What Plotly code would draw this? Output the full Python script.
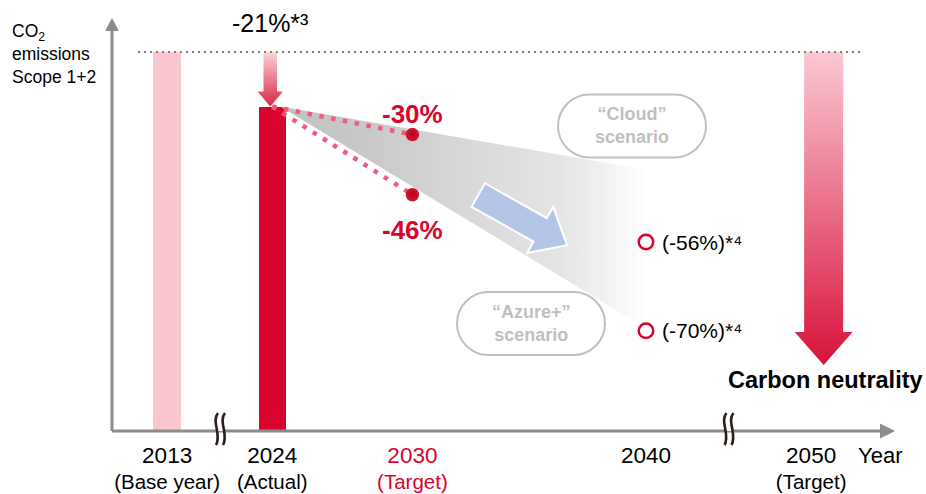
import math
import plotly.graph_objects as go

# ---------------- data ----------------
YEARS = [2013, 2024, 2030, 2040, 2050]
YEAR_NOTES = ["(Base year)", "(Actual)", "(Target)", "", "(Target)"]
BASE_LEVEL = 100            # 2013 Scope 1+2 emissions indexed to 100
ACTUAL_2024 = 79            # -21% vs. base year
SCENARIOS = ["Cloud", "Azure+"]
TARGET_2030 = [70, 54]      # -30% / -46%
OUTLOOK_2040 = [44, 30]     # -56% / -70%
CONE_TOP_2040 = 60          # upper edge of the scenario fan at 2040

RED = "#D9042B"
PINK = "#F9C5CF"
AXIS_GREY = "#8C8C8C"
BOX_GREY = "#BFBFBF"
FONT = "Liberation Sans, Arial, sans-serif"

# ---------------- geometry ----------------
FIG_W, FIG_H = 926, 494
ML, MR, MT, MB = 112, 31, 18, 63
PW, PH = FIG_W - ML - MR, FIG_H - MT - MB
XR = [2017.14, 2050.66]
PX_PER_YEAR = PW / (XR[1] - XR[0])
PX_PER_DECADE = 533.0
Y_TOP = math.log10(BASE_LEVEL) + 34 / PX_PER_DECADE
YR = [Y_TOP - PH / PX_PER_DECADE, Y_TOP]


def pos(year):
    """Broken time axis: the gaps 2013-2024 and 2040-2050 are compressed."""
    if year < 2020:
        return year + 6.5
    if year > 2045:
        return year - 2.93
    return year


def dx(px):
    return px / PX_PER_YEAR


def lift(v, px):
    """Value lying px pixels above v on the log axis."""
    return 10 ** (math.log10(v) + px / PX_PER_DECADE)


def paper_x(px):
    return (px - ML) / PW


def paper_y(py):
    return (FIG_H - MB - py) / PH


def value_to_paper(v):
    return (math.log10(v) - YR[0]) / (YR[1] - YR[0])


def pct(v):
    return f"-{BASE_LEVEL - v}%"


fig = go.Figure()

# scenario fan fading out towards 2040
xa, xe = pos(2024) + dx(8), pos(2040) + dx(4)
fig.add_trace(go.Scatter(
    x=[xa, xe, xe, xa], y=[ACTUAL_2024, CONE_TOP_2040, OUTLOOK_2040[1], ACTUAL_2024],
    mode="lines", fill="toself", line=dict(width=0, color="rgba(0,0,0,0)"),
    fillgradient=dict(type="horizontal", colorscale=[
        [0, "#C2C2C2"], [0.22, "#C8C8C8"], [0.76, "#E5E5E5"], [0.92, "#F6F6F6"], [1, "#FFFFFF"]]),
    hoverinfo="skip", showlegend=False))

# emission bars
fig.add_trace(go.Bar(
    x=[pos(2013), pos(2024)], y=[BASE_LEVEL, ACTUAL_2024],
    width=[dx(28), dx(27)], marker=dict(color=[PINK, RED], line=dict(width=0)),
    hoverinfo="skip", showlegend=False))


def down_arrow(cx, top, tip, shaft_px, head_px, head_len_px, c_top, c_bottom):
    hb = lift(tip, head_len_px)
    sh, hh = dx(shaft_px) / 2, dx(head_px) / 2
    xs = [cx - sh, cx + sh, cx + sh, cx + hh, cx, cx - hh, cx - sh, cx - sh]
    ys = [top, top, hb, hb, tip, hb, hb, top]
    return go.Scatter(
        x=xs, y=ys, mode="lines", fill="toself", line=dict(width=0, color="rgba(0,0,0,0)"),
        fillgradient=dict(type="vertical", colorscale=[[0, c_bottom], [1, c_top]]),
        hoverinfo="skip", showlegend=False)


# reduction achieved by 2024
fig.add_trace(down_arrow(pos(2024) - dx(2), BASE_LEVEL, ACTUAL_2024, 13.5, 25.5, 15,
                         "#FBD3DB", "#D8283F"))
# path to carbon neutrality in 2050
neutral_tip = 10 ** (YR[0] + 66 / PX_PER_DECADE)
fig.add_trace(down_arrow(pos(2050) + dx(12.5), BASE_LEVEL, neutral_tip, 39, 58, 33,
                         "#FAC9D3", "#D8123A"))

# dotted paths to the 2030 targets
for v in TARGET_2030:
    fig.add_trace(go.Scatter(
        x=[pos(2024), pos(2030)], y=[ACTUAL_2024, v], mode="lines",
        line=dict(color="#F4587A", width=4.5, dash="4.5px,7.5px"),
        hoverinfo="skip", showlegend=False))

fig.add_trace(go.Scatter(
    x=[pos(2030)] * 2, y=TARGET_2030, mode="markers",
    marker=dict(size=13.5, color="#D8143A", gradient=dict(type="radial", color="#B0000F"),
                line=dict(width=0)),
    hoverinfo="skip", showlegend=False))

fig.add_trace(go.Scatter(
    x=[pos(2040)] * 2, y=OUTLOOK_2040, mode="markers",
    marker=dict(size=14.5, symbol="circle-open", color=RED, line=dict(width=2.5, color=RED)),
    hoverinfo="skip", showlegend=False))

# ---------------- shapes ----------------
shapes = []
# base-year reference level
base_y = value_to_paper(BASE_LEVEL)
shapes.append(dict(type="line", xref="paper", yref="paper", x0=paper_x(138), x1=paper_x(862),
                   y0=base_y, y1=base_y,
                   line=dict(color="#808080", width=2, dash="2px,4px"), layer="above"))
# axes
shapes.append(dict(type="line", xref="paper", yref="paper", x0=0, x1=0, y0=0, y1=paper_y(29),
                   line=dict(color=AXIS_GREY, width=3), layer="above"))
shapes.append(dict(type="line", xref="paper", yref="paper", x0=0, x1=paper_x(881), y0=0, y1=0,
                   line=dict(color=AXIS_GREY, width=3), layer="above"))


def pixel_path(ax, ay, path, **style):
    d = dict(type="path", xref="paper", yref="paper", xsizemode="pixel", ysizemode="pixel",
             xanchor=paper_x(ax), yanchor=paper_y(ay), path=path, layer="above")
    d.update(style)
    return d


shapes.append(pixel_path(112, 18, "M 0,0 L -7,-13 L 7,-13 Z",
                         fillcolor=AXIS_GREY, line=dict(width=0)))
shapes.append(pixel_path(895, 431, "M 0,0 L -15,7.5 L -15,-7.5 Z",
                         fillcolor=AXIS_GREY, line=dict(width=0)))

# axis break marks
for bx in (220, 728.5):
    shapes.append(pixel_path(bx, 429, "M -3.5,-2 L 3.5,-2 L 3.5,5 L -3.5,5 Z",
                             fillcolor="white", line=dict(width=0)))
    for off in (-3.5, 3.5):
        shapes.append(pixel_path(
            bx + off, 429,
            "M 1.5,16 C -5.5,8 5.5,-6 -0.5,-16",
            line=dict(color="#2B1E1A", width=2.6)))


def pill(cx, cy, w, h):
    r = h / 2
    a = w / 2 - r
    k = 0.5523 * r
    p = (f"M {-a},{r} L {a},{r} C {a + k},{r} {a + r},{k} {a + r},0 "
         f"C {a + r},{-k} {a + k},{-r} {a},{-r} L {-a},{-r} "
         f"C {-a - k},{-r} {-a - r},{-k} {-a - r},0 C {-a - r},{k} {-a - k},{r} {-a},{r} Z")
    return pixel_path(cx, cy, p, line=dict(color=BOX_GREY, width=2), fillcolor="rgba(0,0,0,0)")


BOX_CENTRES = [(632, 126), (531, 323.5)]
for cx, cy in BOX_CENTRES:
    shapes.append(pill(cx, cy, 148, 63))

# blue direction arrow
ang = math.atan2(50, 88.4)
ux, uy = math.cos(ang), math.sin(ang)
vx, vy = -uy, ux
local = [(0, -13.5), (71, -13.5), (71, -26.5), (102, 0), (71, 26.5), (71, 13.5), (0, 13.5)]
pts = [(a * ux + p * vx, -(a * uy + p * vy)) for a, p in local]
blue_path = "M " + " L ".join(f"{x:.2f},{y:.2f}" for x, y in pts) + " Z"
shapes.append(pixel_path(478.3, 195, blue_path, fillcolor="#B4C6E7",
                         line=dict(color="white", width=2)))

# ---------------- text ----------------
ann = []


def paper_text(px, py, text, size, color="black", **kw):
    d = dict(xref="paper", yref="paper", x=paper_x(px), y=paper_y(py), xanchor="center",
             yanchor="middle", showarrow=False, text=text, font=dict(size=size, color=color))
    d.update(kw)
    return d


ann.append(paper_text(10, 19, "CO<sub>2</sub><br>emissions<br>Scope 1+2", 17.5,
                      xanchor="left", yanchor="top", align="left"))
ann.append(dict(x=pos(2024) - dx(2), y=math.log10(BASE_LEVEL), yshift=29, showarrow=False,
                xanchor="center", yanchor="middle",
                text=f"{pct(ACTUAL_2024)}*\u00b3", font=dict(size=25, color="black")))
for v, shift in zip(TARGET_2030, (21, -35)):
    ann.append(dict(x=pos(2030), y=math.log10(v), yshift=shift, showarrow=False,
                    xanchor="center", yanchor="middle",
                    text=f"<b>{pct(v)}</b>", font=dict(size=26, color=RED)))
for v in OUTLOOK_2040:
    ann.append(dict(x=pos(2040), y=math.log10(v), xshift=14, xanchor="left", yanchor="middle",
                    showarrow=False, text=f"({pct(v)})*\u2074",
                    font=dict(size=21, color="black")))
for name, (cx, cy) in zip(SCENARIOS, BOX_CENTRES):
    ann.append(paper_text(cx, cy, f"<b>\u201c{name}\u201d<br>scenario</b>", 18, BOX_GREY))
ann.append(paper_text(825, 380, "<b>Carbon neutrality</b>", 23.5))
ann.append(paper_text(880, 455, "Year", 22))

ticktext = []
for y, note in zip(YEARS, YEAR_NOTES):
    label = f"<span style='font-size:22.5px'>{y}</span>" + (f"<br>{note}" if note else "")
    if y == 2030:
        label = f"<span style='color:{RED}'>{label}</span>"
    ticktext.append(label)

fig.update_layout(
    width=FIG_W, height=FIG_H, margin=dict(l=ML, r=MR, t=MT, b=MB, autoexpand=False),
    paper_bgcolor="white", plot_bgcolor="white",
    font=dict(family=FONT, color="black"),
    showlegend=False, bargap=0,
    shapes=shapes, annotations=ann,
    xaxis=dict(range=XR, showgrid=False, zeroline=False, showline=False, ticks="",
               automargin=False,
               tickvals=[pos(y) for y in YEARS], ticktext=ticktext, ticklabelstandoff=10,
               tickfont=dict(size=20.5, color="black", family=FONT)),
    yaxis=dict(type="log", range=YR, visible=False, showgrid=False, automargin=False),
)

fig.write_html("out.html")
